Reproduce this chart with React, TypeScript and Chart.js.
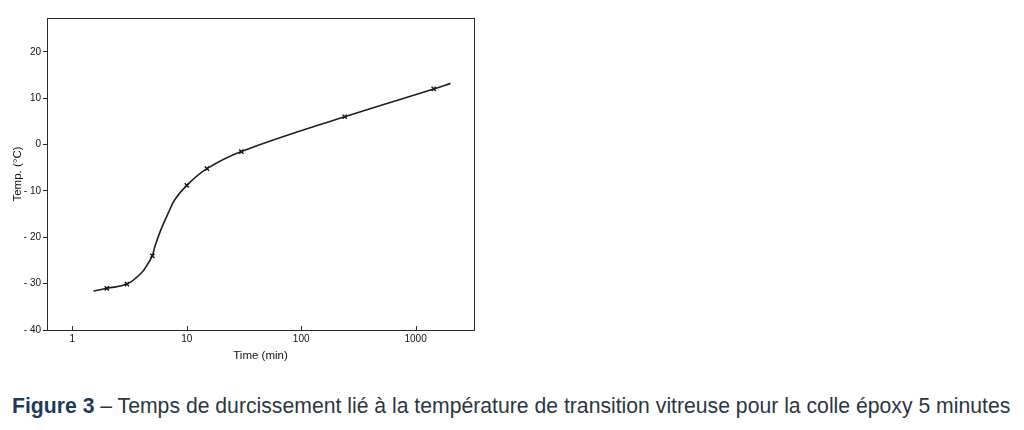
import React, { useEffect, useRef } from "react";
import { Chart, registerables } from "chart.js";

Chart.register(...registerables);

// Measured points (x markers): time in minutes, Tg in °C
const markerTimes = [2, 3, 5, 10, 15, 30, 240, 1440];
const markerTemps = [-31.0, -30.1, -24.0, -8.8, -5.2, -1.5, 6.0, 12.0];

// Fitted curve
const curveTimes = [1.53, 2, 3, 4, 4.6, 5, 5.26, 5.93, 6.88, 7.85, 10, 15, 30, 240, 1440, 2020];
const curveTemps = [-31.6, -31.0, -30.1, -27.7, -25.6, -24.0, -22.0, -18.4, -14.8, -11.9, -8.8, -5.2, -1.5, 6.0, 12.0, 13.2];

const xTicks = [1, 10, 100, 1000];
const yTicks = [-40, -30, -20, -10, 0, 10, 20];

const xTitle = "Time (min)";
const yTitle = "Temp. (°C)";
const captionBold = "Figure 3";
const captionRest =
  " – Temps de durcissement lié à la température de transition vitreuse pour la colle époxy 5 minutes";

const framePlugin = {
  id: "frame",
  afterDraw(chart: any) {
    const { ctx, chartArea, scales } = chart;
    ctx.save();
    ctx.strokeStyle = "#2a2a2a";
    ctx.lineWidth = 1;
    ctx.strokeRect(
      Math.round(chartArea.left) + 0.5,
      Math.round(chartArea.top) + 0.5,
      Math.round(chartArea.right - chartArea.left),
      Math.round(chartArea.bottom - chartArea.top)
    );
    // inward ticks on the x axis
    const xs = scales.x;
    ctx.beginPath();
    for (const v of xTicks) {
      const px = Math.round(xs.getPixelForValue(v)) + 0.5;
      ctx.moveTo(px, chartArea.bottom);
      ctx.lineTo(px, chartArea.bottom - 4);
    }
    ctx.stroke();
    ctx.restore();
  },
};

export default function App() {
  const ref = useRef<HTMLCanvasElement | null>(null);

  useEffect(() => {
    if (!ref.current) return;
    const font = { family: "'Liberation Sans', Arial, sans-serif", size: 10 };
    const chart = new Chart(ref.current, {
      type: "line",
      data: {
        datasets: [
          {
            label: "curve",
            data: curveTimes.map((t, i) => ({ x: t, y: curveTemps[i] })),
            borderColor: "#1e1e1e",
            borderWidth: 1.6,
            pointRadius: 0,
            tension: 0.4,
            fill: false,
          },
          {
            label: "points",
            data: markerTimes.map((t, i) => ({ x: t, y: markerTemps[i] })),
            showLine: false,
            pointStyle: "crossRot",
            pointRadius: 3,
            pointBorderWidth: 1.4,
            pointBorderColor: "#111",
            borderColor: "#111",
          },
        ],
      },
      options: {
        responsive: false,
        animation: false,
        layout: { padding: { top: 18, right: 550, left: 0, bottom: 0 } },
        plugins: {
          legend: { display: false },
          tooltip: { enabled: false },
        },
        scales: {
          x: {
            type: "logarithmic",
            min: 0.63,
            max: 3240,
            afterFit: (s: any) => {
              s.height = 45;
            },
            afterBuildTicks: (s: any) => {
              s.ticks = xTicks.map((v) => ({ value: v }));
            },
            grid: { display: false, drawTicks: false },
            border: { display: false },
            ticks: {
              color: "#111",
              font,
              padding: 3,
              maxRotation: 0,
              autoSkip: false,
              callback: (v: any) => String(v),
            },
            title: {
              display: true,
              text: xTitle,
              color: "#111",
              font: { ...font, size: 11.5 },
              padding: { top: 0, bottom: 12 },
            },
          },
          y: {
            type: "linear",
            min: -40,
            max: 27.3,
            afterFit: (s: any) => {
              s.width = 47;
            },
            afterBuildTicks: (s: any) => {
              s.ticks = yTicks.map((v) => ({ value: v }));
            },
            grid: {
              drawOnChartArea: false,
              drawTicks: true,
              tickLength: 4,
              tickColor: "#222",
            },
            border: { display: false },
            ticks: {
              color: "#111",
              font,
              padding: 2,
              callback: (v: any) => (v < 0 ? "- " + Math.abs(v) : String(v)),
            },
            title: {
              display: true,
              text: yTitle,
              color: "#111",
              font: { ...font, size: 11.5 },
              padding: { top: 11, bottom: 0 },
            },
          },
        },
      },
      plugins: [framePlugin],
    } as any);
    return () => chart.destroy();
  }, []);

  return (
    <div
      style={{
        position: "absolute",
        left: 0,
        top: 0,
        width: 1024,
        height: 430,
        background: "#fff",
        overflow: "hidden",
      }}
    >
      <canvas ref={ref} width={1024} height={375} style={{ display: "block" }} />
      <div
        style={{
          position: "absolute",
          left: 12,
          top: 394,
          whiteSpace: "nowrap",
          fontFamily: "'Liberation Sans', Arial, sans-serif",
          fontSize: 21.2,
          color: "#2b3644",
          lineHeight: "24px",
        }}
      >
        <span style={{ fontWeight: "bold", color: "#1f3b5a" }}>{captionBold}</span>
        {captionRest}
      </div>
    </div>
  );
}
